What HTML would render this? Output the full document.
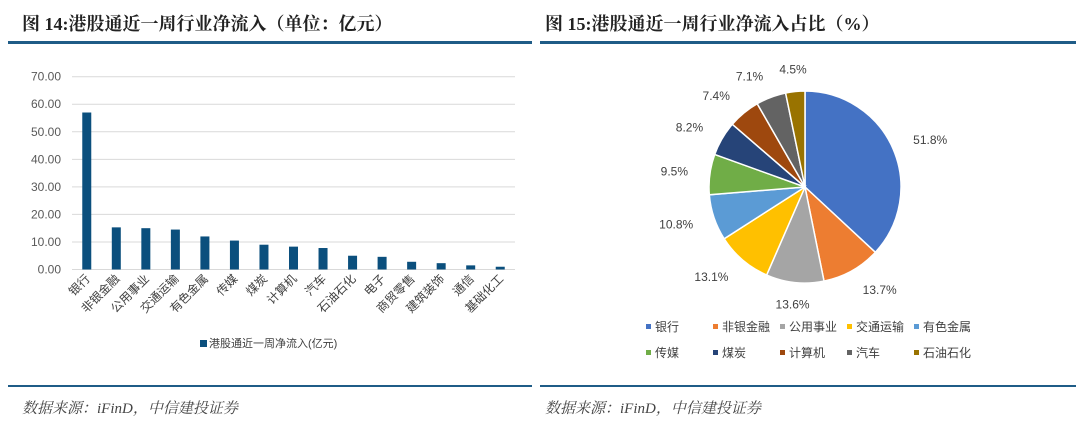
<!DOCTYPE html>
<html><head><meta charset="utf-8"><style>
html,body{margin:0;padding:0;background:#fff;}
body{width:1080px;height:426px;position:relative;overflow:hidden;font-family:"Liberation Serif","Noto Serif CJK SC",serif;}
.title{position:absolute;top:10px;font-size:18px;font-weight:bold;color:#222;}
.hline{position:absolute;background:#1f5c87;}
.src{position:absolute;top:397px;font-size:15px;font-style:italic;color:#444;}
svg text{font-family:"Liberation Sans","Noto Sans CJK SC",sans-serif;}
</style></head><body>
<div class="title" style="left:22px">图 14:港股通近一周行业净流入（单位：亿元）</div>
<div class="title" style="left:545px">图 15:港股通近一周行业净流入占比（%）</div>
<div class="hline" style="left:8px;top:41px;width:524px;height:3px"></div>
<div class="hline" style="left:540px;top:41px;width:536px;height:3px"></div>
<div class="hline" style="left:8px;top:385px;width:524px;height:2px"></div>
<div class="hline" style="left:540px;top:385px;width:536px;height:2px"></div>
<div class="src" style="left:22px">数据来源：iFinD，中信建投证券</div>
<div class="src" style="left:545px">数据来源：iFinD，中信建投证券</div>
<svg id="bar" width="540" height="380" style="position:absolute;left:0;top:0"></svg>
<svg id="pie" width="540" height="380" style="position:absolute;left:540px;top:0"></svg>
<script>
const barCategories=["银行","非银金融","公用事业","交通运输","有色金属","传媒","煤炭","计算机","汽车","石油石化","电子","商贸零售","建筑装饰","通信","基础化工"];
const barValues=[57,15.3,15,14.5,12,10.5,9,8.3,7.8,5,4.6,2.8,2.3,1.5,1.0];
const yTicks=[0,10,20,30,40,50,60,70];
const pieCategories=["银行","非银金融","公用事业","交通运输","有色金属","传媒","煤炭","计算机","汽车","石油石化"];
const pieValues=[57,15.3,15,14.5,12,10.5,9,8.3,7.8,5];
const pieLabels=["51.8%","13.7%","13.6%","13.1%","10.8%","9.5%","8.2%","7.4%","7.1%","4.5%"];
const pieColors=["#4472c4","#ed7d31","#a5a5a5","#ffc000","#5b9bd5","#70ad47","#264478","#9e480e","#636363","#997300"];
const NS="http://www.w3.org/2000/svg";
function mk(p,t,a){const e=document.createElementNS(NS,t);for(const k in a)e.setAttribute(k,a[k]);p.appendChild(e);return e;}
const bar=document.getElementById('bar');
const x0=72,x1=515,yZero=269.5,yTop=76.7;
const ys=v=>yZero-(v/70)*(yZero-yTop);
const band=(x1-x0)/barCategories.length;
const xc=i=>x0+band*(i+0.5);
yTicks.forEach(t=>{
 const g=mk(bar,'line',{x1:x0,x2:x1,y1:ys(t),y2:ys(t),stroke:'#d9d9d9','stroke-width':1});
 
 
 const l=mk(bar,'text',{x:61,y:ys(t)+4,'text-anchor':'end','font-size':12,fill:'#595959'});
 l.textContent=t.toFixed(2);
 
 
});
barValues.forEach((v,i)=>{
 const r=mk(bar,'rect',{x:xc(i)-4.5,y:ys(v),width:9,height:yZero-ys(v),fill:'#0b4f7d'});
 
 
 const t=mk(bar,'text',{x:xc(i)+4,y:yZero+10,'text-anchor':'end','font-size':12,fill:'#404040',transform:`rotate(-45 ${xc(i)+4} ${yZero+10})`});
 t.textContent=barCategories[i];
 
 
});
const lm=mk(bar,'rect',{x:200,y:340,width:7,height:7,fill:'#0b4f7d'});


const lt=mk(bar,'text',{x:209,y:347,'font-size':11,fill:'#404040'});
lt.textContent='港股通近一周净流入(亿元)';


const pie=document.getElementById('pie');
const cx=265,cy=187,R=96;
const total=pieValues.reduce((a,b)=>a+b,0);
let ang=0;
pieValues.forEach((v,i)=>{
 const a0=ang,a1=ang+v/total*2*Math.PI;ang=a1;
 const p=a=>[cx+R*Math.sin(a),cy-R*Math.cos(a)];
 const [sx,sy]=p(a0),[ex,ey]=p(a1);
 const s=mk(pie,'path',{d:`M${cx},${cy}L${sx},${sy}A${R},${R} 0 ${a1-a0>Math.PI?1:0} 1 ${ex},${ey}Z`,fill:pieColors[i],stroke:'#fff','stroke-width':1.5});
 
 
 const m=(a0+a1)/2,lr=R+22;
 const lx=cx+lr*Math.sin(m),ly=cy-lr*Math.cos(m);
 const t=mk(pie,'text',{x:lx,y:ly+4,'text-anchor':Math.sin(m)>0.2?'start':(Math.sin(m)<-0.2?'end':'middle'),'font-size':12,fill:'#404040'});
 t.textContent=pieLabels[i];
 
 
});
const legX=[106,173,240,307,374];
pieCategories.forEach((c,i)=>{
 const x=legX[i%5],y=i<5?327:353;
 const m=mk(pie,'rect',{x:x,y:y-3,width:5,height:5,fill:pieColors[i]});
 
 
 const t=mk(pie,'text',{x:x+9,y:y+4,'font-size':12,fill:'#404040'});
 t.textContent=c;
 
 
});
</script>
</body></html>
